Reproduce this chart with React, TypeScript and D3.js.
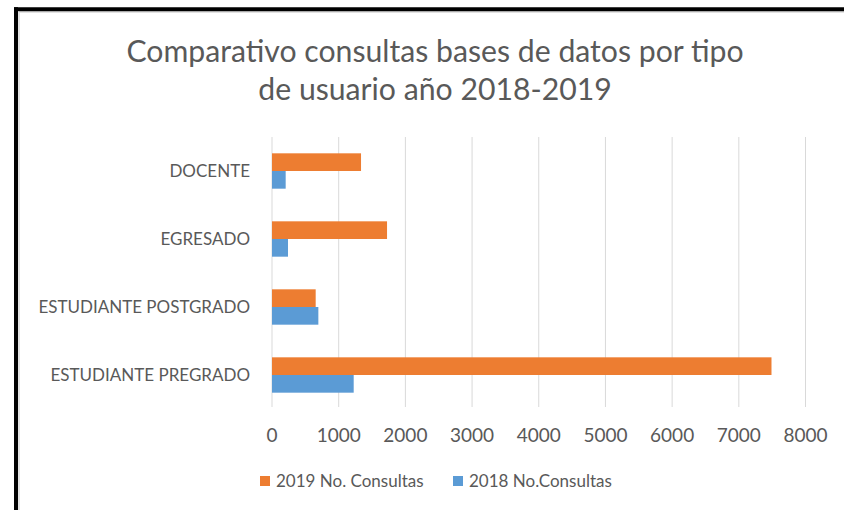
import React from "react";
import * as d3 from "d3";

const categories = ["DOCENTE", "EGRESADO", "ESTUDIANTE POSTGRADO", "ESTUDIANTE PREGRADO"];
const seriesNames = ["2019 No. Consultas", "2018 No.Consultas"];
const values2019 = [1335, 1725, 655, 7490];
const values2018 = [205, 240, 695, 1225];
const xTicks = [0, 1000, 2000, 3000, 4000, 5000, 6000, 7000, 8000];
const colors = ["#ED7D31", "#5B9BD5"];
const titleLines = ["Comparativo consultas bases de datos por tipo", "de usuario año 2018-2019"];

export default function App() {
  const W = 844, H = 510;
  const font = "Lato, 'Open Sans', sans-serif";
  const x = d3.scaleLinear().domain([0, 8000]).range([272, 805.5]);
  const y = d3.scaleBand<string>().domain(categories).range([137, 409]).paddingInner(0.48).paddingOuter(0.24);
  const inner = d3.scaleBand<number>().domain([0, 1]).range([0, y.bandwidth()]);
  const series = [values2019, values2018];
  return (
    <svg width={W} height={H} style={{ position: "absolute", left: 0, top: 0, background: "#fff" }}>
      <rect x={0} y={0} width={W} height={H} fill="#fff" />
      <line x1={19} y1={12} x2={W} y2={12} stroke="#d9d9d9" strokeWidth={1.5} />
      <line x1={19} y1={12} x2={19} y2={H} stroke="#d9d9d9" strokeWidth={1.5} />
      <line x1={14} y1={9.3} x2={W} y2={9.3} stroke="#000" strokeWidth={4} />
      <line x1={16} y1={7.3} x2={16} y2={H} stroke="#000" strokeWidth={4} />
      {titleLines.map((t, i) => (
        <text key={i} x={435} y={62 + i * 38} textAnchor="middle" fontFamily={font} fontSize={30.2} fill="#595959">{t}</text>
      ))}
      {xTicks.map((t) => (
        <g key={t}>
          <line x1={x(t)} x2={x(t)} y1={137} y2={407} stroke="#d9d9d9" strokeWidth={1} />
          <text x={x(t)} y={442} textAnchor="middle" fontFamily={font} fontSize={19} fill="#595959">{t}</text>
        </g>
      ))}
      {categories.map((c, ci) => (
        <g key={c}>
          {series.map((vals, si) => (
            <rect key={si} x={x(0)} y={(y(c) as number) + (inner(si) as number)} width={x(vals[ci]) - x(0)} height={inner.bandwidth()} fill={colors[si]} />
          ))}
          <text x={250} y={(y(c) as number) + y.bandwidth() / 2} dy="0.35em" textAnchor="end" fontFamily={font} fontSize={17} fill="#595959">{c}</text>
        </g>
      ))}
      {seriesNames.map((s, i) => {
        const lx = [260, 453][i];
        return (
          <g key={s}>
            <rect x={lx} y={476} width={10} height={10} fill={colors[i]} />
            <text x={lx + 16} y={481} dy="0.35em" fontFamily={font} fontSize={17} fill="#595959">{s}</text>
          </g>
        );
      })}
    </svg>
  );
}
